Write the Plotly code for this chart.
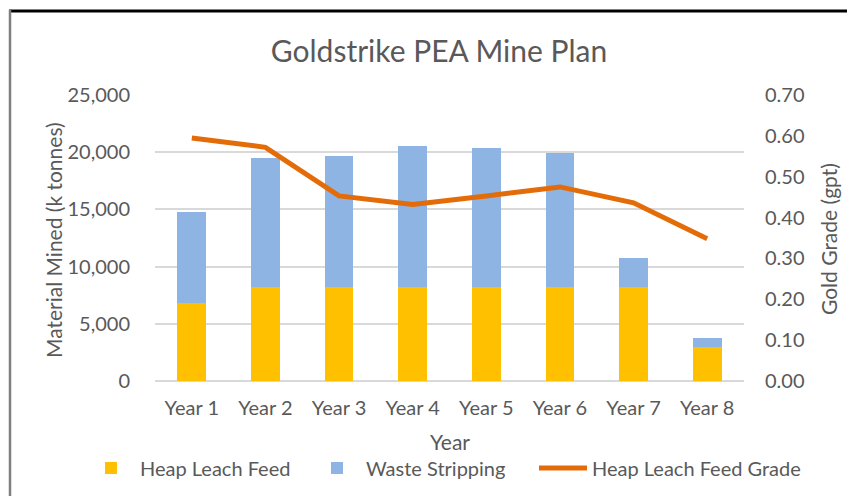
import plotly.graph_objects as go

years = ["Year 1", "Year 2", "Year 3", "Year 4", "Year 5", "Year 6", "Year 7", "Year 8"]
heap_leach_feed = [6850, 8200, 8200, 8200, 8200, 8200, 8200, 3000]
waste_stripping = [7900, 11320, 11470, 12370, 12200, 11760, 2550, 730]
feed_grade = [0.595, 0.572, 0.453, 0.432, 0.453, 0.475, 0.436, 0.348]

left_ticks = [0, 5000, 10000, 15000, 20000, 25000]
right_ticks = [0.0, 0.1, 0.2, 0.3, 0.4, 0.5, 0.6, 0.7]

FONT = "Lato"
TXT = "#595959"
OFF = 8                      # default page body margin
W, H = 855, 496              # page (window) size
L, R, T, B = 155, 111, 95, 115   # plot area position in page pixels
FW, FH = W - OFF, H - OFF
pw, ph = W - L - R, H - T - B

def px(x):
    return (x - L) / pw

def py(y):
    return (H - B - y) / ph

def cx(x):
    return (x - OFF) / FW

def cy(y):
    return 1 - (y - OFF) / FH

fig = go.Figure()
fig.add_trace(go.Bar(x=years, y=heap_leach_feed, name="Heap Leach Feed",
                     marker=dict(color="#FFC000", line=dict(width=0)),
                     legend="legend"))
fig.add_trace(go.Bar(x=years, y=waste_stripping, name="Waste Stripping",
                     marker=dict(color="#8EB4E3", line=dict(width=0)),
                     legend="legend"))
fig.add_trace(go.Scatter(x=years, y=feed_grade, name="Heap Leach Feed Grade",
                         mode="lines", yaxis="y2", legend="legend2",
                         line=dict(color="#E36C09", width=5)))

legend_common = dict(orientation="h", xref="paper", yref="paper",
                     xanchor="left", y=py(468), yanchor="middle",
                     font=dict(size=20, color=TXT), itemwidth=48,
                     traceorder="normal", bgcolor="rgba(0,0,0,0)")

fig.update_layout(
    width=FW, height=FH,
    margin=dict(l=L - OFF, r=R, t=T - OFF, b=B, autoexpand=False),
    paper_bgcolor="white", plot_bgcolor="white",
    barmode="stack", bargap=0.61,
    font=dict(family=FONT, color=TXT, size=20),
    title=dict(text="Goldstrike PEA Mine Plan", xref="container", x=cx(439),
               xanchor="center", yref="container", y=cy(51), yanchor="middle",
               font=dict(size=30, color=TXT, family=FONT)),
    xaxis=dict(showgrid=False, showline=False, ticks="", tickfont=dict(size=20),
               ticklabelstandoff=13),
    yaxis=dict(range=[0, 25000], tickvals=left_ticks, tickformat=",d",
               gridcolor="#D9D9D9", gridwidth=2, zeroline=True,
               zerolinecolor="#D9D9D9", zerolinewidth=2,
               showline=False, ticks="", ticklabelstandoff=24,
               tickfont=dict(size=20)),
    yaxis2=dict(range=[0, 0.7], tickvals=right_ticks, tickformat=".2f",
                overlaying="y", side="right", showgrid=False, zeroline=False,
                showline=False, ticks="", ticklabelstandoff=20,
                tickfont=dict(size=20)),
    legend=dict(legend_common, x=px(82), entrywidth=163),
    legend2=dict(legend_common, x=px(534)),
    showlegend=True,
)

fig.add_annotation(text="Year", xref="paper", yref="paper",
                   x=px(450), y=py(441), showarrow=False,
                   font=dict(size=21, color=TXT, family=FONT),
                   xanchor="center", yanchor="middle")
fig.add_annotation(text="Material Mined (k tonnes)", xref="paper", yref="paper",
                   x=px(53), y=py(240), textangle=-90, showarrow=False,
                   font=dict(size=21, color=TXT, family=FONT),
                   xanchor="center", yanchor="middle")
fig.add_annotation(text="Gold Grade (gpt)", xref="paper", yref="paper",
                   x=px(828), y=py(239), textangle=-90, showarrow=False,
                   font=dict(size=21, color=TXT, family=FONT),
                   xanchor="center", yanchor="middle")

# chart frame (top black, left gray)
fig.add_shape(type="line", xref="paper", yref="paper",
              x0=px(9), x1=px(W + 5), y0=py(11), y1=py(11),
              line=dict(color="black", width=3))
fig.add_shape(type="line", xref="paper", yref="paper",
              x0=px(10), x1=px(10), y0=py(10), y1=py(H + 5),
              line=dict(color="#7F7F7F", width=2.5))

fig.write_html("out.html")
